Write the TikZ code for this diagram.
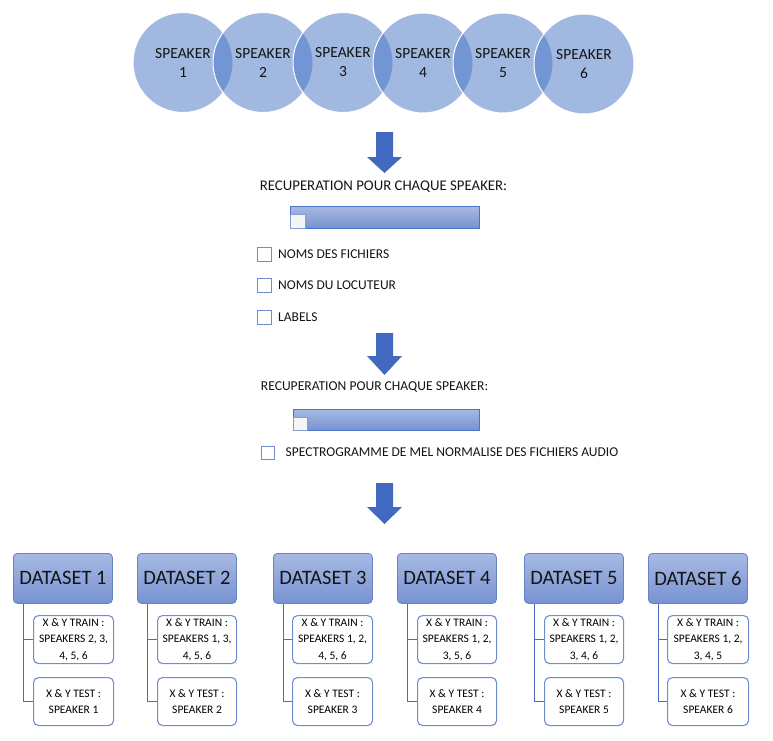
\documentclass[tikz,border=0pt]{standalone}
\usepackage{fontspec}
\setmainfont{Carlito}
\usetikzlibrary{positioning}
\definecolor{spk}{HTML}{4472C4}
\definecolor{arrowblue}{HTML}{4169C0}
\definecolor{bartop}{HTML}{A7BAE3}
\definecolor{barbot}{HTML}{7892D1}
\definecolor{barline}{HTML}{4C74C6}
\definecolor{boxline}{HTML}{6E8ED0}
\definecolor{headline}{HTML}{6683C7}
\definecolor{branchline}{HTML}{4A6CBF}
\definecolor{txt}{HTML}{141414}
\tikzset{
  speaker/.style={circle,minimum size=100pt,inner sep=0pt,fill=spk,
    fill opacity=0.5,text opacity=1,draw=white,line width=1pt,
    align=center,text=txt,font=\fontsize{15.5}{19}\selectfont},
  heading/.style={anchor=base,inner sep=0pt,text=txt},
  bar/.style={minimum height=22pt,inner sep=0pt,top color=bartop,
    bottom color=barbot,draw=barline,line width=0.9pt},
  knob/.style={anchor=south west,inner sep=0pt,fill=black!4,
    draw=barline!70,line width=0.6pt},
  chk/.style={minimum size=14pt,inner sep=0pt,fill=white,
    draw=boxline,line width=1pt},
  lbl/.style={inner sep=0pt,text=txt,font=\fontsize{13.5}{16}\selectfont},
  dshead/.style={anchor=north west,minimum width=99pt,minimum height=50pt,
    inner sep=0pt,rounded corners=4pt,top color=bartop,bottom color=barbot,
    draw=headline,line width=0.8pt,text=txt,font=\fontsize{20.5}{23}\selectfont},
  subbox/.style={anchor=north west,minimum height=48pt,inner sep=0pt,
    rounded corners=5pt,fill=white,draw=boxline,line width=1.1pt,
    align=center,text=black,font=\fontsize{11.5}{16.5}\selectfont},
  branch/.style={draw=branchline,line width=1pt},
  blockarrow/.style={fill=arrowblue}
}
\begin{document}
\begin{tikzpicture}[x=1pt,y=-1pt]
      \useasboundingbox (0,0) rectangle (773,740);

      \node[speaker] (s1) at (183,62.5) {SPEAKER\\1};
      \node[speaker] (s2) at (263,62.5) {SPEAKER\\2};
      \node[speaker] (s3) at (343,62.5) {SPEAKER\\3};
      \node[speaker] (s4) at (423,63) {SPEAKER\\4};
      \node[speaker] (s5) at (503,63) {SPEAKER\\5};
      \node[speaker] (s6) at (584,64) {SPEAKER\\6};

      \fill[blockarrow] (384.5-8.5,132) -- (384.5+8.5,132) -- (384.5+8.5,157)
            -- (384.5+17.5,157) -- (384.5,173) -- (384.5-17.5,157)
            -- (384.5-8.5,157) -- cycle;
      \node[heading,font=\fontsize{14.8}{17}\selectfont] (rec1) at (383.5,190.5)
            {RECUPERATION POUR CHAQUE SPEAKER:};
      \node[bar,minimum width=189pt] (bar1) at (384.5,217) {};
      \node[knob,minimum width=15pt,minimum height=14pt] (k1) at (bar1.south west) {};

      \node[chk] (c1) at (264.5,254) {};
      \node[lbl,right=6pt of c1] (l1) {NOMS DES FICHIERS};
      \node[chk] (c2) at (264.5,285) {};
      \node[lbl,right=6pt of c2] (l2) {NOMS DU LOCUTEUR};
      \node[chk] (c3) at (264.5,317) {};
      \node[lbl,right=6pt of c3] (l3) {LABELS};

      \fill[blockarrow] (384.5-8.5,333) -- (384.5+8.5,333) -- (384.5+8.5,356)
            -- (384.5+17.5,356) -- (384.5,375) -- (384.5-17.5,356)
            -- (384.5-8.5,356) -- cycle;
      \node[heading,font=\fontsize{13.6}{16}\selectfont] (rec2) at (374.5,390.5)
            {RECUPERATION POUR CHAQUE SPEAKER:};
      \node[bar,minimum width=186pt,minimum height=21pt] (bar2) at (386,419.5) {};
      \node[knob,minimum width=14pt,minimum height=13pt] (k2) at (bar2.south west) {};

      \node[chk,minimum size=13pt] (c4) at (267.5,452.5) {};
      \node[lbl,right=11pt of c4] (l4) {SPECTROGRAMME DE MEL NORMALISE DES FICHIERS AUDIO};

      \fill[blockarrow] (384.5-8.5,483) -- (384.5+8.5,483) -- (384.5+8.5,507)
            -- (384.5+17.5,507) -- (384.5,524) -- (384.5-17.5,507)
            -- (384.5-8.5,507) -- cycle;

      \node[dshead] (ds1) at (13,553) {DATASET 1};
      \node[subbox,minimum width=80pt] (tr1) at (13+20,615) {X \& Y TRAIN :\\SPEAKERS 2, 3,\\4, 5, 6};
      \node[subbox,minimum width=80pt] (te1) at (13+20,677) {X \& Y TEST :\\SPEAKER 1};
      \draw[branch] ([xshift=10pt]ds1.south west) |- (tr1.west);
      \draw[branch] ([xshift=10pt]ds1.south west) |- (te1.west);

      \node[dshead] (ds2) at (137,553) {DATASET 2};
      \node[subbox,minimum width=79pt] (tr2) at (137+20,615) {X \& Y TRAIN :\\SPEAKERS 1, 3,\\4, 5, 6};
      \node[subbox,minimum width=79pt] (te2) at (137+20,677) {X \& Y TEST :\\SPEAKER 2};
      \draw[branch] ([xshift=10pt]ds2.south west) |- (tr2.west);
      \draw[branch] ([xshift=10pt]ds2.south west) |- (te2.west);

      \node[dshead] (ds3) at (273,553) {DATASET 3};
      \node[subbox,minimum width=80pt] (tr3) at (273+19,615) {X \& Y TRAIN :\\SPEAKERS 1, 2,\\4, 5, 6};
      \node[subbox,minimum width=80pt] (te3) at (273+19,677) {X \& Y TEST :\\SPEAKER 3};
      \draw[branch] ([xshift=10pt]ds3.south west) |- (tr3.west);
      \draw[branch] ([xshift=10pt]ds3.south west) |- (te3.west);

      \node[dshead] (ds4) at (397,553) {DATASET 4};
      \node[subbox,minimum width=79pt] (tr4) at (397+20,615) {X \& Y TRAIN :\\SPEAKERS 1, 2,\\3, 5, 6};
      \node[subbox,minimum width=79pt] (te4) at (397+20,677) {X \& Y TEST :\\SPEAKER 4};
      \draw[branch] ([xshift=10pt]ds4.south west) |- (tr4.west);
      \draw[branch] ([xshift=10pt]ds4.south west) |- (te4.west);

      \node[dshead] (ds5) at (524,553) {DATASET 5};
      \node[subbox,minimum width=79pt] (tr5) at (524+20,615) {X \& Y TRAIN :\\SPEAKERS 1, 2,\\3, 4, 6};
      \node[subbox,minimum width=79pt] (te5) at (524+20,677) {X \& Y TEST :\\SPEAKER 5};
      \draw[branch] ([xshift=10pt]ds5.south west) |- (tr5.west);
      \draw[branch] ([xshift=10pt]ds5.south west) |- (te5.west);

      \node[dshead] (ds6) at (648,553) {DATASET 6};
      \node[subbox,minimum width=81pt] (tr6) at (648+19,615) {X \& Y TRAIN :\\SPEAKERS 1, 2,\\3, 4, 5};
      \node[subbox,minimum width=81pt] (te6) at (648+19,677) {X \& Y TEST :\\SPEAKER 6};
      \draw[branch] ([xshift=10pt]ds6.south west) |- (tr6.west);
      \draw[branch] ([xshift=10pt]ds6.south west) |- (te6.west);
\end{tikzpicture}
\end{document}
